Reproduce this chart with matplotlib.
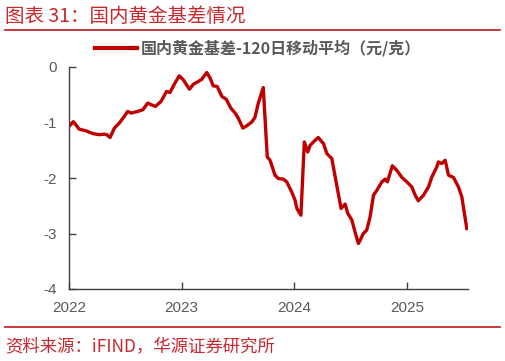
import matplotlib
matplotlib.use("Agg")
import matplotlib.pyplot as plt
import pandas as pd

plt.rcParams['font.family'] = ['Noto Sans CJK SC', 'DejaVu Sans']

# Data (120-day moving average of the basis, yuan/gram)
dates = ['2022-01-04', '2022-01-15', '2022-02-03', '2022-02-25', '2022-03-19',
         '2022-04-09', '2022-04-25', '2022-05-03', '2022-05-14', '2022-05-28',
         '2022-06-13', '2022-06-29', '2022-07-10', '2022-07-21', '2022-08-12',
         '2022-08-28', '2022-09-13', '2022-09-24', '2022-10-08', '2022-10-26',
         '2022-11-13', '2022-11-24', '2022-12-10', '2022-12-24', '2023-01-06',
         '2023-01-26', '2023-02-08', '2023-02-24', '2023-03-07', '2023-03-23',
         '2023-04-03', '2023-04-13', '2023-04-26', '2023-05-11', '2023-05-25',
         '2023-06-09', '2023-06-23', '2023-07-03', '2023-07-18', '2023-07-28',
         '2023-08-16', '2023-08-26', '2023-09-06', '2023-09-22', '2023-10-05',
         '2023-10-14', '2023-10-30', '2023-11-10', '2023-11-26', '2023-12-07',
         '2023-12-23', '2024-01-03', '2024-01-09', '2024-01-22', '2024-02-02',
         '2024-02-13', '2024-02-21', '2024-03-08', '2024-03-18', '2024-04-04',
         '2024-04-15', '2024-05-01', '2024-05-17', '2024-05-31', '2024-06-13',
         '2024-06-22', '2024-07-05', '2024-07-15', '2024-07-26', '2024-08-01',
         '2024-08-11', '2024-08-22', '2024-09-02', '2024-09-13', '2024-09-24',
         '2024-10-10', '2024-10-21', '2024-10-28', '2024-11-13', '2024-11-27',
         '2024-12-14', '2024-12-30', '2025-01-15', '2025-01-26', '2025-02-05',
         '2025-02-22', '2025-03-10', '2025-03-21', '2025-04-06', '2025-04-11',
         '2025-04-22', '2025-05-03', '2025-05-14', '2025-05-30', '2025-06-15',
         '2025-06-26', '2025-07-12']
basis = [-1.05, -0.985, -1.12, -1.15, -1.20,
         -1.22, -1.21, -1.22, -1.27, -1.10,
         -1.01, -0.89, -0.80, -0.83, -0.80,
         -0.77, -0.65, -0.68, -0.71, -0.62,
         -0.44, -0.46, -0.29, -0.16, -0.23,
         -0.40, -0.31, -0.26, -0.22, -0.10,
         -0.20, -0.34, -0.35, -0.53, -0.58,
         -0.74, -0.83, -0.92, -1.10, -1.07,
         -0.99, -0.91, -0.65, -0.37, -1.62,
         -1.68, -1.95, -2.01, -2.02, -2.07,
         -2.25, -2.40, -2.55, -2.67, -1.35,
         -1.53, -1.41, -1.32, -1.27, -1.38,
         -1.56, -1.65, -2.13, -2.55, -2.47,
         -2.64, -2.76, -2.97, -3.18, -3.12,
         -3.00, -2.94, -2.70, -2.31, -2.22,
         -2.07, -2.02, -2.07, -1.78, -1.86,
         -1.99, -2.07, -2.16, -2.31, -2.41,
         -2.31, -2.16, -1.98, -1.80, -1.71,
         -1.74, -1.68, -1.95, -1.99, -2.16,
         -2.34, -2.91]
year_ticks = ['2022', '2023', '2024', '2025']
y_ticks = [0, -1, -2, -3, -4]

title = '图表 31：国内黄金基差情况'
series_name = '国内黄金基差-120日移动平均（元/克）'
source = '资料来源：iFIND，华源证券研究所'

red = '#C00000'
rule_red = '#C8282E'
grey = '#595959'

fig = plt.figure(figsize=(5.06, 3.61), dpi=100)
ax = fig.add_axes([69 / 506, 1 - 289 / 361, (468 - 69) / 506, (289 - 67) / 361])

x = pd.to_datetime(dates)
ax.plot(x, basis, color=red, linewidth=2.4, solid_joinstyle='round')

ax.set_xlim(pd.Timestamp('2022-01-01'), pd.Timestamp('2025-07-16'))
ax.set_ylim(-4, 0)
ax.set_xticks([pd.Timestamp(y + '-01-01') for y in year_ticks])
ax.set_xticklabels(year_ticks)
ax.set_yticks(y_ticks)
ax.set_yticklabels([str(v) for v in y_ticks])

for side in ['top', 'right']:
    ax.spines[side].set_visible(False)
for side in ['left', 'bottom']:
    ax.spines[side].set_color('#404040')
    ax.spines[side].set_linewidth(1.0)
ax.tick_params(direction='in', length=5, width=1, color='#404040',
               labelcolor=grey, labelsize=11)
ax.tick_params(axis='x', pad=9)
ax.tick_params(axis='y', pad=8.5)
for lab in ax.get_xticklabels() + ax.get_yticklabels():
    lab.set_family(['Liberation Sans', 'DejaVu Sans'])

# legend drawn by hand at the top
fig.add_artist(plt.Line2D([95 / 506, 137 / 506], [1 - 48 / 361] * 2,
                          color=red, linewidth=3, transform=fig.transFigure))
fig.text(141 / 506, 1 - 48 / 361, series_name, color=grey, fontsize=11.5,
         fontweight='bold', va='center', ha='left')

# title, rules and source
fig.text(5 / 506, 1 - 17 / 361, title, color=rule_red, fontsize=14,
         va='center', ha='left')
fig.add_artist(plt.Line2D([5 / 506, 500 / 506], [1 - 30 / 361] * 2,
                          color=rule_red, linewidth=1.3, transform=fig.transFigure))
fig.add_artist(plt.Line2D([5 / 506, 500 / 506], [1 - 327 / 361] * 2,
                          color=rule_red, linewidth=1.3, transform=fig.transFigure))
fig.text(5 / 506, 1 - 347 / 361, source, color=rule_red, fontsize=12.5,
         va='center', ha='left')

fig.savefig('out.png', dpi=100)
